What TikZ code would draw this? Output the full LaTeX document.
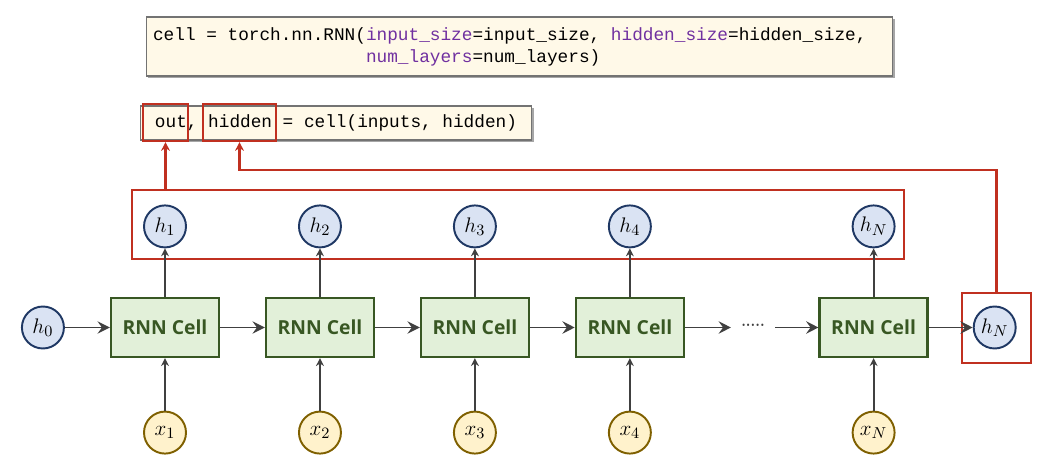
\documentclass[tikz,border=0pt]{standalone}
\usepackage{fontspec}
\setsansfont{Open Sans}
\newfontfamily\codefont{Liberation Mono}
\newcommand\codestyle{\codefont\fontsize{10.1}{12.5}\selectfont}
\usepackage{tikz}
\usetikzlibrary{arrows.meta, positioning, shadows}

\definecolor{hfill}{RGB}{218,227,243}
\definecolor{hdraw}{RGB}{31,56,100}
\definecolor{xfill}{RGB}{255,242,204}
\definecolor{xdraw}{RGB}{127,96,0}
\definecolor{cellfill}{RGB}{226,240,217}
\definecolor{celldraw}{RGB}{56,87,35}
\definecolor{hlred}{RGB}{192,48,32}
\definecolor{codebg}{RGB}{255,249,232}
\definecolor{kwpurple}{RGB}{112,48,160}
\definecolor{linegray}{RGB}{64,64,64}

\frenchspacing

\begin{document}
\begin{tikzpicture}[
  x=0.02cm, y=-0.02cm,
  cell/.style={rectangle, draw=celldraw, line width=1.3pt, fill=cellfill, minimum width=2.16cm, minimum height=1.18cm, font=\sffamily\bfseries\fontsize{11}{13}\selectfont, text=celldraw},
  hid/.style={circle, draw=hdraw, line width=1.1pt, fill=hfill, minimum size=0.84cm, inner sep=0pt, font=\fontsize{13}{15}\selectfont},
  inp/.style={circle, draw=xdraw, line width=1.1pt, fill=xfill, minimum size=0.84cm, inner sep=0pt, font=\fontsize{13}{15}\selectfont},
  codebox/.style={rectangle, draw=black!55, fill=codebg, line width=0.6pt, drop shadow={shadow xshift=1.2pt, shadow yshift=-1.2pt, fill=black!50, opacity=0.7}, font=\codestyle},
  hlbox/.style={rectangle, draw=hlred, line width=1.2pt, inner sep=0pt},
  flow/.style={-{Stealth[length=7pt, width=7pt, inset=2.5pt]}, line width=1.1pt, draw=linegray},
  up/.style={-{Stealth[length=4.5pt, width=4.5pt]}, line width=1.1pt, draw=linegray},
  redarrow/.style={-{Stealth[length=5pt, width=5pt]}, line width=1.2pt, draw=hlred}
]
  \useasboundingbox (0,0) rectangle (1050,465);

  % code lines
  \node[codebox, minimum width=14.94cm, minimum height=1.18cm, text width=14.66cm, inner xsep=0.14cm, align=left] (init) at (519.5,46.5)
    {\spaceskip=0.6em\relax cell = torch.nn.RNN(\textcolor{kwpurple}{input\_size}=input\_size, \textcolor{kwpurple}{hidden\_size}=hidden\_size,\\
     \hphantom{cell = torch.nn.RNN(}\textcolor{kwpurple}{num\_layers}=num\_layers)};
  \node[codebox, minimum width=7.84cm, minimum height=0.68cm] (call) at (336,123)
    {out, hidden = cell(inputs, hidden)};
  \node[hlbox, minimum width=0.9cm, minimum height=0.74cm] (outbox) at (165.5,122.5) {};
  \node[hlbox, minimum width=1.46cm, minimum height=0.74cm] (hidbox) at (239.5,122.5) {};

  % cells
  \node[cell] (c1) at (165,327.5) {RNN Cell};
  \node[cell, right=0.894cm of c1] (c2) {RNN Cell};
  \node[cell, right=0.894cm of c2] (c3) {RNN Cell};
  \node[cell, right=0.894cm of c3] (c4) {RNN Cell};
  \node[cell, right=2.67cm of c4] (c5) {RNN Cell};

  \node[hid, left=0.9cm of c1] (h0) {$h_0$};
  \node[hid, right=0.88cm of c5] (hlast) {$h_N$};
  \node[inner xsep=0.2cm, font=\sffamily\fontsize{10}{12}\selectfont, text=linegray] (dots) at (753,327.5)
    {\textperiodcentered\textperiodcentered\textperiodcentered\textperiodcentered\textperiodcentered};

  % outputs
  \node[hid, above=0.97cm of c1] (h1) {$h_1$};
  \node[hid, above=0.97cm of c2] (h2) {$h_2$};
  \node[hid, above=0.97cm of c3] (h3) {$h_3$};
  \node[hid, above=0.97cm of c4] (h4) {$h_4$};
  \node[hid, above=0.97cm of c5] (hN) {$h_N$};

  % inputs
  \node[inp, below=1.05cm of c1] (x1) {$x_1$};
  \node[inp, below=1.05cm of c2] (x2) {$x_2$};
  \node[inp, below=1.05cm of c3] (x3) {$x_3$};
  \node[inp, below=1.05cm of c4] (x4) {$x_4$};
  \node[inp, below=1.05cm of c5] (xN) {$x_N$};

  % highlight boxes
  \node[hlbox, minimum width=15.44cm, minimum height=1.38cm] (outs) at (518,224.5) {};
  \node[hlbox, minimum width=1.38cm, minimum height=1.4cm] (lastbox) at (996.5,328) {};

  \draw[flow] (h0) -- (c1);
  \draw[flow] (c1) -- (c2);
  \draw[flow] (c2) -- (c3);
  \draw[flow] (c3) -- (c4);
  \draw[flow] (c4) -- (dots);
  \draw[flow] (dots) -- (c5);
  \draw[flow] (c5) -- (hlast);

  \draw[up] (c1) -- (h1);
  \draw[up] (c2) -- (h2);
  \draw[up] (c3) -- (h3);
  \draw[up] (c4) -- (h4);
  \draw[up] (c5) -- (hN);
  \draw[up] (x1) -- (c1);
  \draw[up] (x2) -- (c2);
  \draw[up] (x3) -- (c3);
  \draw[up] (x4) -- (c4);
  \draw[up] (xN) -- (c5);

  \coordinate (bend) at (239.5,170);
  \draw[redarrow] (outs.north -| outbox.south) -- (outbox.south);
  \draw[redarrow] (lastbox.north) |- (bend) -- (hidbox.south);
\end{tikzpicture}
\end{document}
